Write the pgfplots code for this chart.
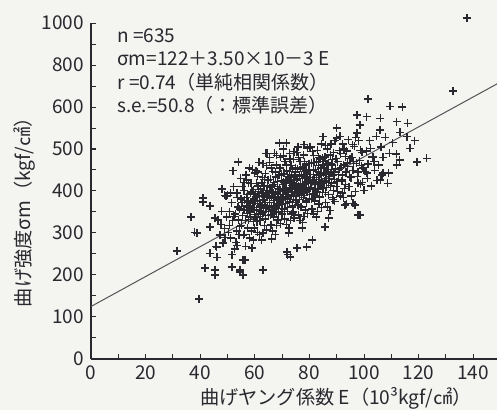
\documentclass[border=0pt]{standalone}
\usepackage{fontspec}
\setmainfont{Noto Sans CJK JP}
\usepackage{pgfplots}
\pgfplotsset{compat=1.18}
\definecolor{ink}{RGB}{40,40,46}
\definecolor{paper}{RGB}{244,244,241}

\begin{document}
\begin{tikzpicture}
\fill[paper] (-45.5pt,-25.5pt) rectangle (203pt,179.5pt);
\begin{axis}[
  scale only axis,
  width=203pt, height=168pt,
  xmin=0, xmax=148.7, ymin=0, ymax=800,
  axis x line=bottom, axis y line=left,
  axis line style={-, ink, line width=0.6pt},
  xtick={0,20,...,140}, minor xtick={10,30,...,130},
  ytick={0,100,...,800},
  yticklabels={0,100,200,300,400,500,600,800,1000},
  minor ytick={50,150,...,750},
  tick align=inside,
  major tick length=2.5pt, minor tick length=2.5pt,
  tick style={ink, line width=0.5pt},
  every tick label/.append style={font=\fontsize{9.5}{10}\selectfont, text=ink},
  /pgf/number format/assume math mode=true,
  clip=false,
]
% regression line
\addplot[ink!80, line width=0.5pt] coordinates {(0,125) (148.7,655)};

\addplot[only marks, mark=+, mark size=2pt, mark options={ink, line width=0.65pt}] coordinates {
% isolated points
(137.7,812) (132.6,638) (39.6,143) (31.5,257) (36.6,338) (38.8,300) (41.8,217) (45.4,202)
(43.6,252) (38,302) (63,212) (54.6,212) (51.6,219) (56.4,236) (72,248) (75.5,264)
(81,283) (79,267) (85.7,314) (97.8,343) (96.7,367) (92,395) (100,402) (98.5,343)
(101.5,619) (109.5,602) (114,600) (97.4,581) (101,577) (106,573) (112,565) (116,561)
(98.5,557) (115.7,529) (90,550) (119.4,469) (123,478) (113,474) (112,462) (109,443)
(106,426) (106.6,438) (69,514) (71.6,514) (54,469) (64,490) (78,510) (57,426)
(61,445) (50,390) (41,383) (64.5,490) (60,443) (53.5,395) (49,390) (41,374) (43.6,364)
(45.4,336) (43.6,314) (46,267) (45.4,212) (45.4,200) (51.6,248) (54.6,207) (55.7,200)
(71.8,255) (73,243) (55.7,236) (59,264) (53.5,271) (87,336) (93,367) (85,529)
(97.4,538) (90,526) (80,505) (103,481) (107,443) (96,371) (88.6,379) (92,426)
(97.8,419) (101,443)
% 45-50
(45.8,268) (46.5,331) (47.2,295) (47.9,352) (48.3,276) (48.8,310) (49.4,388) (46.1,242)
(47.6,320) (49.1,289) (48.0,405) (49.7,338)
% 50-55
(50.3,302) (50.8,351) (51.2,288) (51.5,372) (51.9,329) (52.2,410) (52.6,262) (52.9,345)
(53.3,305) (53.6,384) (53.9,331) (54.2,296) (54.5,357) (54.8,430) (50.6,318) (51.1,395)
(52.4,340) (53.1,278) (53.8,362) (54.4,315) (52.0,448) (54.9,381)
% 55-60
(55.1,318) (55.3,372) (55.6,341) (55.8,295) (56.0,402) (56.2,355) (56.5,330) (56.7,268)
(56.9,385) (57.2,347) (57.4,312) (57.6,420) (57.9,362) (58.1,288) (58.3,338) (58.5,395)
(58.7,358) (58.9,305) (59.1,452) (59.3,370) (59.5,327) (59.7,381) (59.9,344) (55.4,410)
(56.3,297) (57.0,366) (57.8,332) (58.6,418) (59.4,283) (55.9,355) (56.8,438) (57.5,376)
(58.2,350) (59.0,399) (59.8,312)
% 60-65
(60.1,338) (60.3,392) (60.5,355) (60.7,418) (60.9,302) (61.1,371) (61.3,345) (61.5,468)
(61.7,388) (61.9,329) (62.1,405) (62.3,362) (62.5,283) (62.7,378) (62.9,432) (63.1,350)
(63.3,397) (63.5,318) (63.7,372) (63.9,441) (64.1,359) (64.3,307) (64.5,386) (64.7,412)
(64.9,341) (60.2,376) (60.8,327) (61.4,398) (62.0,352) (62.6,420) (63.2,380) (63.8,333)
(64.4,460) (61.0,435) (61.6,296) (62.2,368) (62.8,345) (63.4,410) (64.0,392) (64.6,365)
(60.4,448) (61.8,366) (63.0,300) (63.6,385) (64.8,425)
% 65-70
(65.1,352) (65.3,401) (65.5,372) (65.7,428) (65.9,319) (66.1,389) (66.3,355) (66.5,447)
(66.7,395) (66.9,338) (67.1,415) (67.3,377) (67.5,296) (67.7,392) (67.9,462) (68.1,365)
(68.3,410) (68.5,331) (68.7,386) (68.9,438) (69.1,374) (69.3,322) (69.5,400) (69.7,425)
(69.9,358) (65.2,390) (65.8,343) (66.4,412) (67.0,366) (67.6,433) (68.2,394) (68.8,348)
(69.4,480) (66.0,455) (66.6,305) (67.2,383) (67.8,360) (68.4,422) (69.0,405) (69.6,381)
(65.4,468) (66.8,378) (68.0,318) (68.6,399) (69.8,440) (65.6,408) (66.2,286) (67.4,352)
(68.9,370) (67.1,490)
% 70-75
(70.1,368) (70.3,415) (70.5,386) (70.7,442) (70.9,333) (71.1,402) (71.3,370) (71.5,462)
(71.7,409) (71.9,352) (72.1,428) (72.3,391) (72.5,312) (72.7,405) (72.9,476) (73.1,380)
(73.3,424) (73.5,345) (73.7,399) (73.9,452) (74.1,388) (74.3,336) (74.5,414) (74.7,438)
(74.9,372) (70.2,404) (70.8,357) (71.4,426) (72.0,381) (72.6,447) (73.2,408) (73.8,362)
(74.4,494) (71.0,470) (71.6,320) (72.2,397) (72.8,374) (73.4,436) (74.0,419) (74.6,395)
(70.4,483) (71.8,392) (73.0,330) (73.6,413) (74.8,455) (70.6,421) (72.4,300) (73.9,366)
(71.2,385) (74.2,475) (70.0,345) (72.8,418) (73.5,390) (71.9,440) (74.9,405)
% 75-80
(75.1,378) (75.3,426) (75.5,395) (75.7,452) (75.9,343) (76.1,412) (76.3,380) (76.5,471)
(76.7,418) (76.9,362) (77.1,438) (77.3,401) (77.5,325) (77.7,414) (77.9,486) (78.1,390)
(78.3,433) (78.5,355) (78.7,409) (78.9,462) (79.1,398) (79.3,346) (79.5,424) (79.7,448)
(79.9,382) (75.2,414) (75.8,367) (76.4,436) (77.0,391) (77.6,457) (78.2,418) (78.8,372)
(79.4,502) (76.0,480) (76.6,330) (77.2,406) (77.8,384) (78.4,446) (79.0,429) (79.6,405)
(75.4,492) (76.8,402) (78.0,340) (78.6,423) (79.8,465) (75.6,430) (77.4,312) (78.9,376)
(76.2,395) (77.9,440)
% 80-85
(80.1,392) (80.3,440) (80.5,409) (80.7,466) (80.9,357) (81.1,426) (81.3,394) (81.5,485)
(81.7,432) (81.9,376) (82.1,452) (82.3,415) (82.5,338) (82.7,428) (82.9,497) (83.1,404)
(83.3,447) (83.5,369) (83.7,423) (83.9,476) (84.1,412) (84.3,360) (84.5,438) (84.7,462)
(84.9,396) (80.2,428) (80.8,381) (81.4,450) (82.0,405) (82.6,471) (83.2,432) (83.8,386)
(84.4,512) (81.0,494) (81.6,345) (82.2,420) (82.8,398) (83.4,460) (84.0,443) (84.6,419)
(80.4,505) (81.8,417) (83.0,352) (83.6,437) (84.8,478)
% 85-90
(85.1,407) (85.3,455) (85.5,424) (85.7,481) (85.9,372) (86.1,441) (86.3,409) (86.5,500)
(86.7,447) (86.9,391) (87.1,467) (87.3,430) (87.5,353) (87.7,443) (87.9,512) (88.1,419)
(88.3,462) (88.5,384) (88.7,438) (88.9,491) (89.1,427) (89.3,375) (89.5,453) (89.7,477)
(89.9,411) (85.2,443) (85.8,396) (86.4,465) (87.0,420) (87.6,486) (88.2,447) (88.8,401)
(89.4,520) (86.0,509) (86.6,362) (87.2,435) (87.8,413) (88.4,475)
% 90-95
(90.1,422) (90.4,470) (90.7,439) (91.0,496) (91.3,388) (91.6,456) (91.9,424) (92.2,512)
(92.5,462) (92.8,406) (93.1,482) (93.4,445) (93.7,370) (94.0,458) (94.3,522) (94.6,434)
(94.9,477) (90.3,399) (90.9,452) (91.5,489) (92.1,438) (92.7,500) (93.3,416) (93.9,467)
(94.5,410) (91.2,530) (92.4,384) (93.6,495)
% 95-100
(95.2,432) (95.6,480) (96.0,449) (96.4,506) (96.8,398) (97.2,466) (97.6,434) (98.0,520)
(98.4,472) (98.8,416) (99.2,492) (99.6,455) (95.4,388) (96.2,470) (97.0,527) (97.8,445)
(98.6,497) (99.4,421) (95.9,510) (99.0,460)
% 100-120
(100.3,447) (100.9,495) (101.5,464) (102.1,520) (102.7,412) (103.3,481) (103.9,449) (104.5,530)
(101.2,430) (102.4,502) (103.6,470) (104.8,425)
(105.4,462) (106.2,505) (107.0,480) (107.8,528) (108.6,418) (105.9,545) (109.2,490)
(110.5,515) (111.8,488) (113.2,540) (116.8,502) (118.5,520)
% dense core
(56.1,378) (57.3,392) (58.4,372) (59.6,403) (60.6,386) (61.2,412) (62.4,395) (63.5,428)
(64.2,402) (65.0,425) (66.0,398) (66.9,421) (67.5,445) (68.3,380) (69.2,455) (70.3,392)
(71.0,418) (71.7,448) (72.5,432) (73.3,461) (74.1,428) (75.0,445) (75.9,408) (76.7,455)
(77.5,430) (78.2,470) (79.1,441) (80.0,452) (80.8,418) (81.7,468) (82.5,440) (83.4,480)
(84.2,455) (85.0,470) (86.0,430) (87.0,452) (88.0,465) (89.0,445) (60.0,360) (62.0,340)
(64.0,372) (66.0,362) (68.0,350) (70.0,370) (72.0,360) (74.0,350) (76.0,365) (78.0,395)
(80.0,380) (82.0,390) (84.0,420) (86.2,425) (63.0,465) (65.5,480) (68.0,485) (70.5,500)
(72.8,490) (75.8,505) (58.0,455) (56.0,420)
};

\node[anchor=north west, align=left, inner sep=0pt, text=ink,
  font=\fontsize{9.5}{11.75}\selectfont]
  at (axis description cs:0.064,0.985)
  {n =635\\σm=122＋3.50×10－3 E\\r =0.74（単純相関係数）\\s.e.=50.8（：標準誤差）};

\node[rotate=90, text=ink, font=\fontsize{9.6}{12}\selectfont]
  at (axis description cs:-0.163,0.45) {曲げ強度σm（kgf/㎠）};
\node[text=ink, font=\fontsize{9.6}{12}\selectfont]
  at (axis description cs:0.603,-0.116) {曲げヤング係数 E（10³kgf/㎠）};
\end{axis}
\pgfresetboundingbox
\path (-45.5pt,-25.5pt) rectangle (203pt,179.5pt);
\end{tikzpicture}
\end{document}
